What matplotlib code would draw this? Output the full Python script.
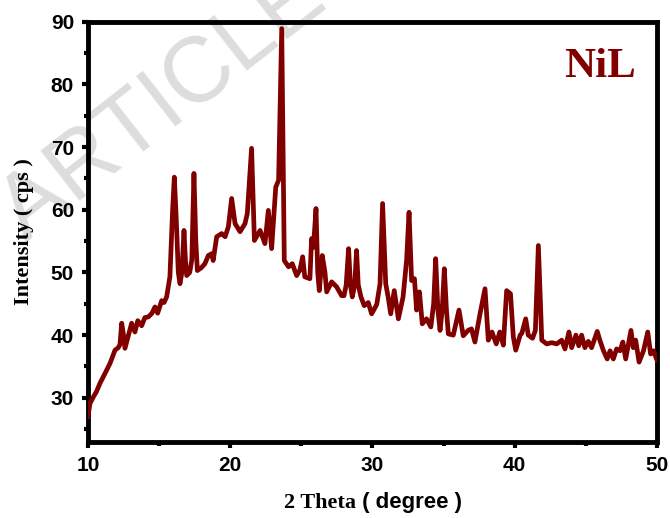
import matplotlib
matplotlib.use("Agg")
import matplotlib.pyplot as plt
from matplotlib.ticker import MultipleLocator


# XRD scan of the NiL complex, read as (2 theta, counts) pairs
two_theta = [
    10.0, 10.14, 10.37, 10.6, 10.84, 11.2, 11.55, 11.9, 12.13, 12.25,
    12.37, 12.5, 12.6, 12.85, 13.07, 13.3, 13.5, 13.77, 14.0, 14.24,
    14.5, 14.71, 14.9, 15.18, 15.35, 15.53, 15.76, 15.95, 16.07, 16.2,
    16.35, 16.47, 16.6, 16.75, 16.85, 16.94, 17.15, 17.3, 17.45, 17.58,
    17.69, 17.99, 18.22, 18.46, 18.7, 18.8, 19.05, 19.4, 19.64, 19.87,
    20.1, 20.34, 20.69, 21.04, 21.2, 21.5, 21.7, 22.1, 22.44, 22.68,
    22.91, 23.2, 23.4, 23.62, 23.8, 24.1, 24.36, 24.67, 24.9, 25.09,
    25.24, 25.6, 25.72, 25.85, 26.03, 26.15, 26.26, 26.47, 26.66, 26.78,
    27.13, 27.48, 27.83, 28.0, 28.15, 28.32, 28.45, 28.58, 28.75, 28.88,
    29.0, 29.19, 29.42, 29.7, 29.94, 30.3, 30.53, 30.71, 30.93, 31.1,
    31.28, 31.53, 31.82, 32.15, 32.4, 32.57, 32.75, 32.95, 33.1, 33.3,
    33.5, 33.8, 34.1, 34.3, 34.44, 34.6, 34.75, 34.9, 35.05, 35.2,
    35.33, 35.68, 36.08, 36.38, 36.72, 36.96, 37.2, 37.56, 37.91, 38.14,
    38.4, 38.7, 38.95, 39.2, 39.43, 39.7, 39.9, 40.07, 40.38, 40.5,
    40.77, 40.95, 41.25, 41.45, 41.66, 41.9, 42.25, 42.6, 42.95, 43.3,
    43.53, 43.81, 44.0, 44.3, 44.5, 44.7, 44.93, 45.17, 45.4, 45.8,
    45.98, 46.23, 46.5, 46.7, 46.93, 47.16, 47.4, 47.6, 47.8, 48.17,
    48.33, 48.5, 48.74, 49.05, 49.35, 49.55, 49.75, 50.0,
]
intensity = [
    27.0, 29.1, 30.1, 31.0, 32.3, 33.9, 35.5, 37.6, 38.0, 38.5,
    41.9, 40.0, 37.9, 40.0, 41.9, 40.5, 42.3, 41.5, 42.8, 42.9,
    43.5, 44.5, 43.5, 45.5, 45.2, 46.1, 49.3, 60.0, 65.2, 58.9,
    50.0, 48.2, 50.0, 56.7, 52.0, 49.5, 50.0, 52.0, 65.8, 55.0,
    50.3, 50.8, 51.4, 52.7, 53.0, 51.9, 55.7, 56.2, 55.7, 57.3,
    61.8, 57.8, 56.5, 57.8, 59.4, 69.8, 55.1, 56.7, 54.6, 59.9,
    53.8, 63.6, 64.7, 88.9, 51.9, 50.9, 51.4, 49.5, 50.4, 52.5,
    49.3, 49.0, 55.4, 54.0, 60.2, 50.0, 47.1, 52.7, 50.0, 46.9,
    48.5, 47.7, 46.3, 46.3, 48.0, 53.8, 48.0, 46.1, 48.0, 53.5,
    48.0, 46.1, 44.7, 45.2, 43.4, 44.9, 48.2, 61.0, 48.2, 46.1,
    43.4, 47.1, 42.6, 46.1, 52.0, 59.6, 48.7, 49.0, 44.0, 46.9,
    41.8, 42.6, 41.3, 45.0, 52.2, 44.0, 40.75, 44.0, 50.6, 44.0,
    40.2, 40.0, 44.0, 39.9, 40.75, 41.0, 38.9, 43.4, 47.4, 39.2,
    40.5, 38.6, 40.5, 38.4, 47.1, 46.6, 39.7, 37.6, 40.0, 40.3,
    42.6, 40.0, 39.5, 40.75, 54.3, 39.2, 38.6, 38.8, 38.6, 39.2,
    37.8, 40.5, 38.0, 40.0, 38.3, 40.0, 38.0, 39.0, 38.0, 40.6,
    39.2, 37.55, 36.2, 37.5, 36.2, 37.8, 37.5, 38.9, 36.2, 40.75,
    38.0, 39.2, 35.7, 37.5, 40.5, 37.0, 37.5, 36.0,
]

line_color = "#800000"
serif = "Liberation Serif"
sans = "Liberation Sans"

fig = plt.figure(figsize=(6.7, 5.18), dpi=100)
ax = fig.add_axes([0.1313, 0.1473, 0.8493, 0.8108])
ax.set_facecolor("none")

# journal watermark, kept behind the axes and the labels
fig.text(0.04, 0.53, "ARTICLE IN PRESS", fontsize=66, family=sans,
         color="#dddddd", rotation=38, rotation_mode="anchor",
         ha="left", va="baseline", zorder=-5)

ax.plot(two_theta, intensity, color=line_color, lw=3.4,
        solid_joinstyle="round", zorder=3)

ax.set_xlim(10, 50)
ax.set_ylim(23, 90)
ax.xaxis.set_major_locator(MultipleLocator(10))
ax.xaxis.set_minor_locator(MultipleLocator(5))
ax.yaxis.set_major_locator(MultipleLocator(10))
ax.yaxis.set_minor_locator(MultipleLocator(5))
ax.set_yticks(range(30, 91, 10))

for side in ["left", "right", "top", "bottom"]:
    ax.spines[side].set_linewidth(3.5)
ax.tick_params(which="both", direction="out", width=3.0,
               top=False, right=False)
ax.tick_params(which="major", length=4, pad=6)
ax.tick_params(which="minor", length=3)
for lab in ax.get_xticklabels() + ax.get_yticklabels():
    lab.set_family(sans)
    lab.set_fontweight("bold")
    lab.set_fontsize(15)

ax.set_ylabel("Intensity ( cps )", family=serif, fontweight="bold",
              fontsize=16, labelpad=12)
# x label mixes a serif and a sans part
fig.text(0.531, 0.020, "2 Theta", family=serif, fontweight="bold",
         fontsize=16, ha="right", va="baseline")
fig.text(0.531, 0.020, " ( degree )", family=sans, fontweight="bold",
         fontsize=16, ha="left", va="baseline")

ax.text(0.837, 0.868, "NiL", transform=ax.transAxes, family=serif,
        fontweight="bold", fontsize=31, color=line_color,
        ha="left", va="baseline")

fig.savefig("out.png", dpi=100, facecolor="white")
